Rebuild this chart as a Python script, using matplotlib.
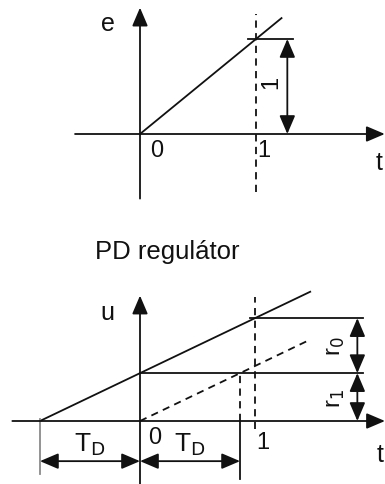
import matplotlib.pyplot as plt

plt.rcParams['font.family'] = ['Liberation Sans', 'DejaVu Sans']

# top panel: ramp input e(t) = t
t_ramp = [0, 1.22]
e_ramp = [0, 1.22]
e_unit = 1.0      # height of the "1" dimension
t_one = 1.0

# bottom panel: PD regulator response u(t) = r1 + r0*t, with r1 = r0*TD
TD = 0.87
r0 = 1.0
r1 = r0 * TD
t_end = 1.48

title = "PD regulátor"

ink = '#111111'
grey = '#8a8a8a'
lw = 1.3


def arrow(ax, p0, p1, both=False, color=ink):
    style = '<|-|>' if both else '-|>'
    ax.annotate('', xy=p1, xytext=p0, annotation_clip=False,
                arrowprops=dict(arrowstyle=style + ',head_length=0.75,head_width=0.32',
                                color=color, lw=lw, shrinkA=0, shrinkB=0,
                                mutation_scale=15))


fig = plt.figure(figsize=(3.85, 4.85), dpi=100)

# ---------------- top panel ----------------
ax1 = fig.add_axes([0, 1 - 230 / 485, 1, 230 / 485])
ax1.set_xlim(-140 / 116, 245 / 116)
ax1.set_ylim((135 - 230) / 95, 135 / 95)
ax1.axis('off')

arrow(ax1, (-0.56, 0), (2.11, 0))          # t axis
arrow(ax1, (0, -0.68), (0, 1.33))          # e axis
ax1.plot(t_ramp, e_ramp, color=ink, lw=lw)
ax1.plot([t_one, t_one], [-0.61, 1.26], color=ink, lw=lw, ls=(0, (4, 3)))
ax1.plot([0.93, 1.32], [e_unit, e_unit], color=ink, lw=lw)
arrow(ax1, (1.27, 0), (1.27, e_unit), both=True)

ax1.text(1.13, 0.55, '1', rotation=90, fontsize=17, color=ink, ha='center', va='center')
ax1.text(-0.28, 1.17, 'e', fontsize=18, color=ink, ha='center', va='center')
ax1.text(0.14, -0.17, '0', fontsize=17, color=ink, ha='center', va='center')
ax1.text(1.07, -0.17, '1', fontsize=17, color=ink, ha='center', va='center')
ax1.text(2.06, -0.3, 't', fontsize=18, color=ink, ha='center', va='center')

# ---------------- bottom panel ----------------
ax2 = fig.add_axes([0, 0, 1, 255 / 485])
ax2.set_xlim(-140 / 115, 245 / 115)
ax2.set_ylim((422 - 485) / 55, (422 - 230) / 55)
ax2.axis('off')

arrow(ax2, (-1.11, 0), (2.13, 0))          # t axis
arrow(ax2, (0, -1.2), (0, 2.28))           # u axis

ax2.plot([-TD, t_end], [r1 - r0 * TD, r1 + r0 * t_end], color=ink, lw=lw)
ax2.plot([0, t_end], [0, r0 * t_end], color=ink, lw=lw, ls=(0, (4, 3)))

ax2.plot([t_one, t_one], [-0.15, 2.26], color=ink, lw=lw, ls=(0, (4, 3)))
ax2.plot([TD, TD], [0, r1], color=ink, lw=lw, ls=(0, (4, 3)))
ax2.plot([TD, TD], [0, -1.05], color=ink, lw=lw)
ax2.plot([-TD, -TD], [0.03, -0.97], color=grey, lw=lw)

ax2.plot([0.96, 1.94], [r1 + r0, r1 + r0], color=ink, lw=lw)
ax2.plot([0, 1.94], [r1, r1], color=ink, lw=lw)
arrow(ax2, (1.89, r1), (1.89, r1 + r0), both=True)
arrow(ax2, (1.89, 0), (1.89, r1), both=True)

arrow(ax2, (-TD, -0.73), (0, -0.73), both=True)
arrow(ax2, (0, -0.73), (TD, -0.73), both=True)

ax2.text(1.70, r1 + r0 / 2, r'r$_0$', rotation=90, fontsize=17, color=ink, ha='center', va='center')
ax2.text(1.70, r1 / 2, r'r$_1$', rotation=90, fontsize=17, color=ink, ha='center', va='center')
ax2.text(-TD / 2, -0.42, r'T$_\mathrm{D}$', fontsize=19, color=ink, ha='center', va='center')
ax2.text(TD / 2, -0.42, r'T$_\mathrm{D}$', fontsize=19, color=ink, ha='center', va='center')
ax2.text(-0.28, 1.98, 'u', fontsize=18, color=ink, ha='center', va='center')
ax2.text(0.13, -0.29, '0', fontsize=17, color=ink, ha='center', va='center')
ax2.text(1.07, -0.38, '1', fontsize=17, color=ink, ha='center', va='center')
ax2.text(2.09, -0.6, 't', fontsize=18, color=ink, ha='center', va='center')
ax2.text(0.235, 3.1, title, fontsize=18.5, color=ink, ha='center', va='center')

plt.savefig('out.png', dpi=100)
